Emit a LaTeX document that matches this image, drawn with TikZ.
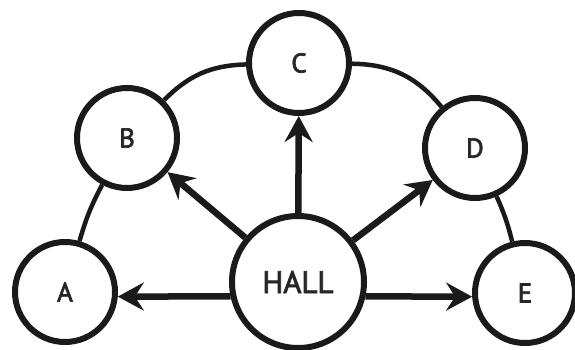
\documentclass[tikz,border=0pt]{standalone}
\usepackage{fontspec}
\setmainfont{PT Sans}
\newfontfamily\labelfont{PT Sans}[FakeBold=2.6]
\usetikzlibrary{arrows.meta}
\definecolor{ink}{HTML}{1A1A1A}
\definecolor{txt}{HTML}{262626}
\begin{document}
\begin{tikzpicture}[x=1pt,y=1pt,
  room/.style={circle,draw=ink,line width=6pt,fill=white,minimum size=100pt,inner sep=0pt,
    font=\labelfont\fontsize{27}{27}\selectfont,text=txt},
  hall/.style={room,minimum size=132pt,font=\labelfont\fontsize{31}{31}\selectfont},
  link/.style={draw=ink,line width=4.5pt},
  go/.style={draw=ink,line width=6.5pt,-{Stealth[length=26pt,width=28pt,inset=9pt]}}]
\useasboundingbox (0,0) rectangle (575,349);
\node[room] (A) at (65,57) {A};
\node[room] (B) at (127,211) {B};
\node[room] (C) at (299,286) {C};
\node[room] (D) at (475,201) {D};
\node[room] (E) at (525,56) {E};
\node[hall] (H) at (298,67) {HALL};
\draw[link] (A) to[bend left=6] (B);
\draw[link] (B) to[bend left=22] (C);
\draw[link] (C) to[bend left=25] (D);
\draw[link] (D) to[bend left=5] (E);
\draw[go] (H) -- (C);
\draw[go] (H) -- (B);
\draw[go] (H) -- (D);
\draw[go] (H.192.6) -- (A.-5);
\draw[go] (H.-12.6) -- (E.184);
\end{tikzpicture}
\end{document}
